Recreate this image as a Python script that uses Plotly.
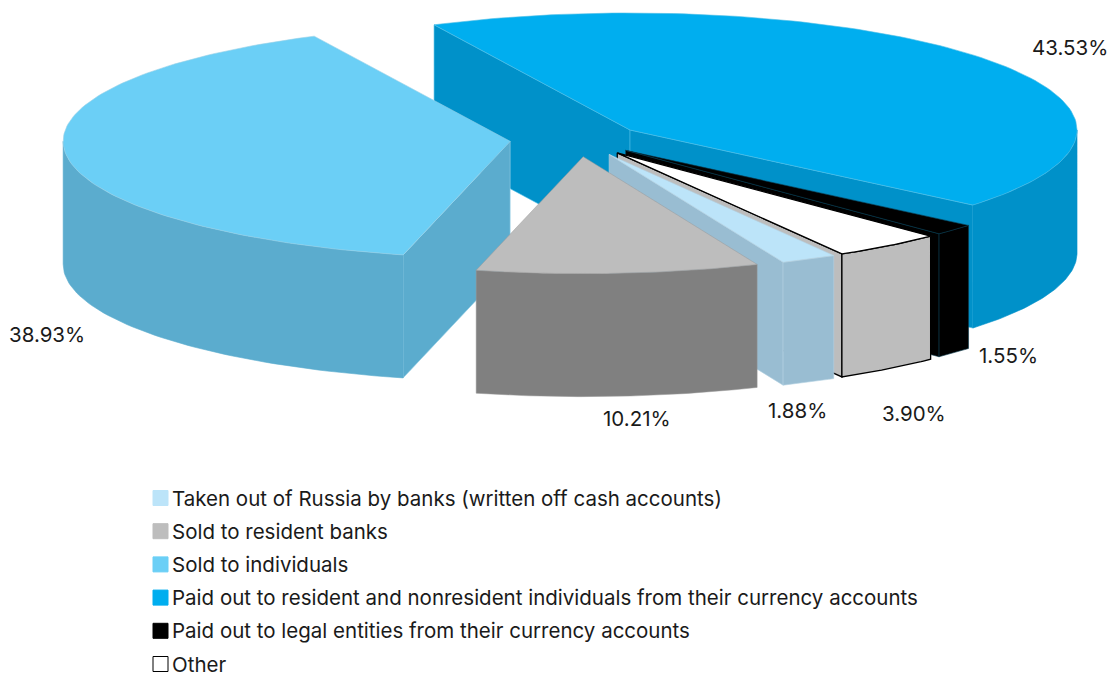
import numpy as np
import plotly.graph_objects as go

# ---- data, clockwise round the pie from its starting angle ----
slice_names = ["Paid out to resident and nonresident individuals from their currency accounts",
               "Paid out to legal entities from their currency accounts",
               "Other",
               "Taken out of Russia by banks (written off cash accounts)",
               "Sold to resident banks",
               "Sold to individuals"]
slice_shares = [43.53, 1.55, 3.90, 1.88, 10.21, 38.93]
slice_labels = ["43.53%", "1.55%", "3.90%", "1.88%", "10.21%", "38.93%"]
legend_order = [3, 4, 5, 0, 1, 2]

# ---- styles ----
top_colors = ["#00AEEF", "#000000", "#FFFFFF", "#BCE4F9", "#BDBDBD", "#6BCFF6"]
wall_colors = ["#0091C9", "#000000", "#BDBDBD", "#99BDD2", "#808080", "#5BACCE"]
edge_colors = ["#4DBDE6", "#0B3A4E", "#000000", "#B4D2E2", "#9A9A9A", "#9AD2E8"]
edge_widths = [0.6, 0.6, 1.3, 0.6, 0.5, 0.6]
# painting order, back to front
paint_order = [0, 1, 2, 3, 5, 4]

# ---- pie geometry (pixels on the hidden axes) ----
CX, CY = 578.0, 140.5
RX, RY = 447.0, 117.0
DEPTH = 123.0
EXPLODE = 0.147
START = 116.0
# the source's 3-D projection is not a perfect ellipse: small per-slice corrections
apex_nudge = [(0, 0), (0, -2), (0, -1.5), (2, -1.5), (0, -1), (-2.5, -1)]
warp_nodes = [-250, -104, -67.1, -60.3, -46.3, -40.7, 0, 120]
warp_deg = [0, 0, 0, 0.5, 0.8, 0.8, 0, 0]
label_pos = [(1070, 47), (1008, 355), (914, 413), (797, 410), (637, 418), (47, 334)]
FONT = "Inter"
FS = 20.5
TXT = "#1a1a1a"

sweeps = np.array(slice_shares) / sum(slice_shares) * 360.0
ends = START - np.cumsum(sweeps)
starts = ends + sweeps


def warp(t):
    return t + np.interp(t, warp_nodes, warp_deg)


def arc(cx, cy, t0, t1, n=60):
    t = np.radians(warp(np.linspace(t0, t1, n)))
    return cx + RX * np.cos(t), cy - RY * np.sin(t)


def poly(xs, ys, fill, line, width, name):
    return go.Scatter(x=list(xs), y=list(ys), mode="lines", fill="toself", fillcolor=fill,
                      line=dict(color=line, width=width), hoverinfo="text", text=name,
                      showlegend=False)


fig = go.Figure()
for i in paint_order:
    ts, te = starts[i], ends[i]
    mid = np.radians((ts + te) / 2)
    ax = CX + RX * EXPLODE * np.cos(mid) + apex_nudge[i][0]
    ay = CY - RY * EXPLODE * np.sin(mid) + apex_nudge[i][1]
    name = slice_names[i]
    wall, edge, w = wall_colors[i], edge_colors[i], edge_widths[i]
    # radial cut walls that face the viewer
    for t, visible in ((ts, np.cos(np.radians(ts)) < 0), (te, np.cos(np.radians(te)) > 0)):
        if visible:
            ex, ey = arc(ax, ay, t, t, 1)
            fig.add_trace(poly([ax, ex[0], ex[0], ax, ax],
                               [ay, ey[0], ey[0] + DEPTH, ay + DEPTH, ay],
                               wall, edge, w, name))
    # curved outer wall: only the front half of the rim shows
    hi = min(ts, 0)
    lo = max(te, -180)
    if hi > lo:
        ox, oy = arc(ax, ay, hi, lo)
        fig.add_trace(poly(np.r_[ox, ox[::-1], ox[0]], np.r_[oy, oy[::-1] + DEPTH, oy[0]],
                           wall, wall if i in (0, 5) else edge, w, name))
    # top face
    tx, ty = arc(ax, ay, ts, te, 120)
    fig.add_trace(poly(np.r_[ax, tx, ax], np.r_[ay, ty, ay], top_colors[i], edge, w, name))

# legend built on the same hidden axes
LEG_X, LEG_Y, LEG_STEP = 160.5, 498.0, 33.2
fig.add_trace(go.Scatter(
    x=[LEG_X] * len(legend_order),
    y=[LEG_Y + k * LEG_STEP for k in range(len(legend_order))],
    mode="markers", hoverinfo="skip", showlegend=False,
    marker=dict(symbol="square", size=15,
                color=[top_colors[i] for i in legend_order],
                line=dict(color=["#000000" if top_colors[i] == "#FFFFFF" else top_colors[i]
                                 for i in legend_order], width=1))))

annotations = []
for k, i in enumerate(legend_order):
    annotations.append(dict(x=170, y=LEG_Y + k * LEG_STEP, text=slice_names[i], xanchor="left",
                            yanchor="middle", showarrow=False, xref="x", yref="y",
                            font=dict(family=FONT, size=FS, color=TXT)))
for i, (lx, ly) in enumerate(label_pos):
    annotations.append(dict(x=lx, y=ly, text=slice_labels[i], xanchor="center", yanchor="middle",
                            showarrow=False, xref="x", yref="y",
                            font=dict(family=FONT, size=FS, color=TXT)))

fig.update_layout(width=1112, height=674, margin=dict(l=0, r=0, t=0, b=0),
                  paper_bgcolor="white", plot_bgcolor="white", annotations=annotations,
                  xaxis=dict(range=[0, 1112], visible=False, fixedrange=True),
                  yaxis=dict(range=[674, 0], visible=False, fixedrange=True))
fig.write_html("out.html", config=dict(displayModeBar=False),
               post_script="document.body.style.margin='0';document.documentElement.style.overflow='hidden';")
